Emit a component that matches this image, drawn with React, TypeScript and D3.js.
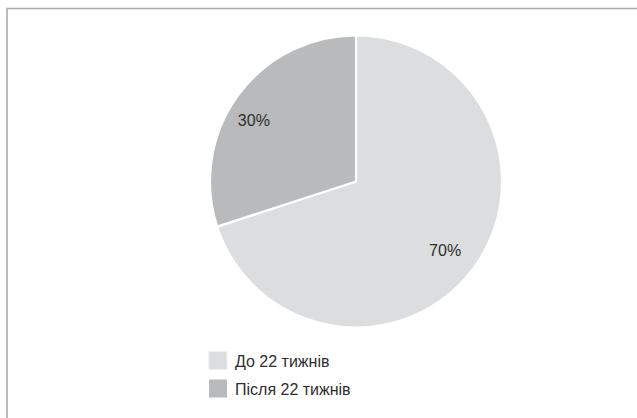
import React from "react";
import * as d3 from "d3";

const categories = ["До 22 тижнів", "Після 22 тижнів"];
const values = [70, 30];
const labels = ["70%", "30%"];
const colors = ["#dcdddf", "#b9babc"];

const W = 637;
const H = 418;

export default function App() {
  const cx = 356;
  const cy = 181.5;
  const r = 146;
  const pie = d3.pie<number>().sort(null).value((d) => d)(values);
  const arc = d3.arc<d3.PieArcDatum<number>>().innerRadius(0).outerRadius(r);
  const labelArc = d3
    .arc<d3.PieArcDatum<number>>()
    .innerRadius(r * 0.78)
    .outerRadius(r * 0.78);
  const labelShift = [
    [-3, 1.5],
    [-10, 5.5],
  ];
  const font = "'Liberation Sans', Arial, Helvetica, sans-serif";
  const legendY = d3.scaleBand<number>().domain([0, 1]).range([351, 407]);

  return (
    <svg
      width={W}
      height={H}
      style={{ position: "absolute", left: 0, top: 0, background: "#fff" }}
    >
      <rect x={0} y={0} width={W} height={H} fill="#fff" />
      <path
        d={`M7,${H + 5} L7,8.5 L${W + 5},8.5`}
        fill="none"
        stroke="#ababab"
        strokeWidth={1.6}
      />
      <g transform={`translate(${cx},${cy})`}>
        {pie.map((p, i) => (
          <path key={i} d={arc(p) || ""} fill={colors[i]} stroke="#fff" strokeWidth={2.2} strokeLinejoin="round" />
        ))}
        {pie.map((p, i) => {
          const [x, y] = labelArc.centroid(p);
          return (
            <text
              key={i}
              x={x + labelShift[i][0]}
              y={y + labelShift[i][1]}
              dy="0.35em"
              textAnchor="middle"
              fontFamily={font}
              fontSize={16}
              fill="#2e2e2e"
            >
              {labels[i]}
            </text>
          );
        })}
      </g>
      {categories.map((c, i) => {
        const y = legendY(i) as number;
        return (
          <g key={c}>
            <rect
              x={209}
              y={y + 0.5}
              width={18}
              height={18}
              fill={colors[i]}
              stroke={i === 0 ? "#eeeeee" : "none"}
              strokeWidth={1}
            />
            <text
              x={235}
              y={y + 16}
              fontFamily={font}
              fontSize={16}
              fill="#2e2e2e"
            >
              {c}
            </text>
          </g>
        );
      })}
    </svg>
  );
}
